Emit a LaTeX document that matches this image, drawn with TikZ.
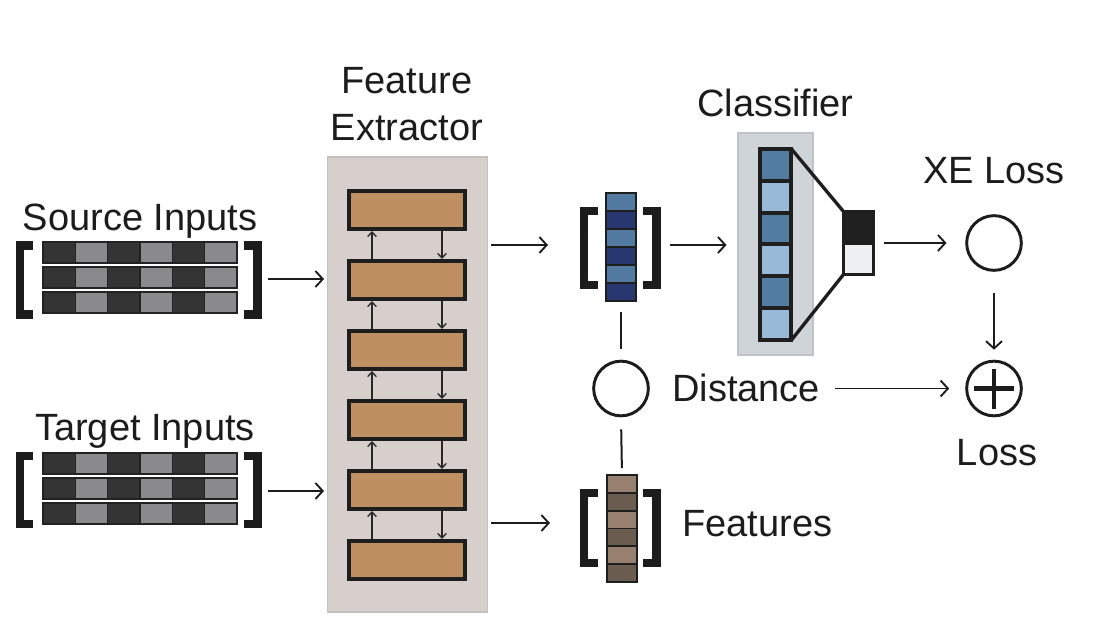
\documentclass[tikz,border=0pt]{standalone}
\usepackage{fontspec}
\setmainfont{Liberation Sans}
\usetikzlibrary{arrows.meta}

\begin{document}
\begin{tikzpicture}[x=0.75pt,y=0.75pt,yscale=-1,xscale=1,
  txt/.style={inner sep=0pt, text={rgb, 255:red, 28; green, 28; blue, 28}, font=\fontsize{28.5}{35.5}\selectfont},
  arr/.style={draw={rgb, 255:red, 28; green, 28; blue, 28}, line width=1.4pt, -{Straight Barb[length=5.5pt,width=12pt]}},
  smallarr/.style={draw={rgb, 255:red, 40; green, 40; blue, 40}, line width=1pt, -{Straight Barb[length=3.5pt,width=6.5pt]}},
  link/.style={draw={rgb, 255:red, 28; green, 28; blue, 28}, line width=1.5pt},
  brack/.style={draw={rgb, 255:red, 28; green, 28; blue, 28}, line width=6.5pt},
  fxblock/.style={draw={rgb, 255:red, 30; green, 30; blue, 30}, fill={rgb, 255:red, 190; green, 144; blue, 97}, line width=3pt, minimum width=87pt, minimum height=28.5pt, inner sep=0pt},
  inrow/.style={draw={rgb, 255:red, 34; green, 34; blue, 34}, fill={rgb, 255:red, 52; green, 52; blue, 52}, line width=1.5pt},
  incell/.style={draw={rgb, 255:red, 34; green, 34; blue, 34}, fill={rgb, 255:red, 138; green, 138; blue, 140}, line width=1.1pt},
  vcell/.style={draw={rgb, 255:red, 30; green, 30; blue, 30}, line width=1.4pt},
  ccell/.style={draw={rgb, 255:red, 30; green, 30; blue, 30}, line width=3pt},
  ring/.style={circle, draw={rgb, 255:red, 28; green, 28; blue, 28}, line width=2.2pt, minimum size=41pt, inner sep=0pt}
]
\useasboundingbox (0,0) rectangle (1100,636);

%Shape: Rectangle -- feature extractor background
\draw (407.5,384.5) node (fe) [draw={rgb, 255:red, 196; green, 193; blue, 191}, fill={rgb, 255:red, 215; green, 207; blue, 203}, line width=1.2pt, minimum width=120pt, minimum height=341pt, inner sep=0pt] {};
%Shape: Rectangle -- layers
\foreach \i/\y in {1/210,2/280,3/350,4/420,5/490,6/560}
  \draw (407,\y) node (b\i) [fxblock] {};
\foreach \i/\j in {1/2,2/3,3/4,4/5,5/6} {
  \draw[smallarr] ([xshift=-26.25pt]b\j.north) -- ([xshift=-26.25pt]b\i.south);
  \draw[smallarr] ([xshift=26.25pt]b\i.south) -- ([xshift=26.25pt]b\j.north);
}

%Shape: Rectangle -- input rows
\foreach \yy in {252.5,277.5,302.5,463.5,488.5,513.5} {
  \draw[inrow] (43,\yy-10.5) rectangle (237,\yy+10.5);
  \foreach \c in {1,3,5}
    \draw[incell] ({43+32.33*\c},\yy-10.5) rectangle ++(32.33,21);
}
%Shape: Brackets -- inputs
\draw[brack] (33,245.5) -- (20,245.5) -- (20,314.5) -- (33,314.5);
\draw[brack] (244,245.5) -- (257.5,245.5) -- (257.5,314.5) -- (244,314.5);
\draw[brack] (33,456) -- (20,456) -- (20,524) -- (33,524);
\draw[brack] (244,456) -- (257.5,456) -- (257.5,524) -- (244,524);

%Shape: Rectangle -- source feature vector
\draw (621,247) node (fv) [minimum width=22.5pt, minimum height=81pt, inner sep=0pt] {};
\draw[vcell, fill={rgb, 255:red, 40; green, 55; blue, 112}] (606,193) rectangle (636,301);
\foreach \k in {0,2,4}
  \draw[vcell, fill={rgb, 255:red, 82; green, 121; blue, 160}] (606,193+18*\k) rectangle (636,211+18*\k);
\draw[brack] (598,211) -- (584,211) -- (584,285) -- (598,285);
\draw[brack] (643,211) -- (656.5,211) -- (656.5,285) -- (643,285);

%Shape: Rectangle -- target feature vector
\draw (622,528.5) node (tv) [minimum width=22.5pt, minimum height=80pt, inner sep=0pt] {};
\draw[vcell, fill={rgb, 255:red, 106; green, 92; blue, 78}] (607,475) rectangle (637,582);
\foreach \k in {0,2,4}
  \draw[vcell, fill={rgb, 255:red, 152; green, 128; blue, 113}] (607,475+17.83*\k) rectangle (637,492.83+17.83*\k);
\draw[brack] (598,493) -- (584,493) -- (584,563) -- (598,563);
\draw[brack] (643,493) -- (656.5,493) -- (656.5,563) -- (643,563);

%Shape: Rectangle -- classifier
\draw (775.5,244) node (clsbox) [draw={rgb, 255:red, 190; green, 195; blue, 198}, fill={rgb, 255:red, 206; green, 212; blue, 216}, line width=1.2pt, minimum width=56.25pt, minimum height=166.5pt, inner sep=0pt] {};
\draw (775.5,244.5) node (clscol) [minimum width=23.25pt, minimum height=143.25pt, inner sep=0pt] {};
\draw[ccell, fill={rgb, 255:red, 152; green, 185; blue, 215}] (760,149) rectangle (791,340);
\foreach \k in {0,2,4}
  \draw[ccell, fill={rgb, 255:red, 82; green, 125; blue, 160}] (760,149+31.83*\k) rectangle (791,180.83+31.83*\k);
\draw (858.5,243) node (smax) [minimum width=22.5pt, minimum height=47.25pt, inner sep=0pt] {};
\draw[line width=2.6pt, draw={rgb, 255:red, 30; green, 30; blue, 30}, fill={rgb, 255:red, 32; green, 32; blue, 32}] (843.5,211.5) rectangle (873.5,243);
\draw[line width=2.6pt, draw={rgb, 255:red, 30; green, 30; blue, 30}, fill={rgb, 255:red, 238; green, 240; blue, 242}] (843.5,243) rectangle (873.5,274.5);
\draw[line width=2.5pt, draw={rgb, 255:red, 30; green, 30; blue, 30}] (clscol.north east) -- (smax.north west);
\draw[line width=2.5pt, draw={rgb, 255:red, 30; green, 30; blue, 30}] (clscol.south east) -- (smax.south west);

%Shape: Circle
\draw (621,388.5) node (dist) [ring] {};
\draw (994,243) node (xe) [ring] {};
\draw (994,388.5) node (plus) [ring] {};
\draw[line width=3.4pt, draw={rgb, 255:red, 28; green, 28; blue, 28}] ([xshift=-15pt]plus.center) -- ([xshift=15pt]plus.center);
\draw[line width=3.4pt, draw={rgb, 255:red, 28; green, 28; blue, 28}] ([yshift=-15pt]plus.center) -- ([yshift=15pt]plus.center);

% Text Node
\draw (140,230) node (srclbl) [txt, anchor=base] {Source Inputs};
% Text Node
\draw (145,440) node (tgtlbl) [txt, anchor=base] {Target Inputs};
% Text Node
\draw (407,141) node (felbl) [txt, anchor=south, align=center] {Feature\\Extractor};
% Text Node
\draw (775.5,116) node (clslbl) [txt, anchor=base] {Classifier};
% Text Node
\draw (994,183) node (xelbl) [txt, anchor=base] {XE Loss};
% Text Node
\draw (997,465) node (losslbl) [txt, anchor=base] {Loss};
% Text Node
\draw (672,401) node (distlbl) [txt, anchor=base west] {Distance};
% Text Node
\draw (682,536) node (featlbl) [txt, anchor=base west] {Features};

% connectors
\coordinate (srcout) at (268,279);
\coordinate (tgtout) at (268,491);
\coordinate (fvin) at (548,245);
\coordinate (tvin) at (550,523);
\coordinate (distout) at (835,388.5);
\draw[arr, shorten >=2pt] (srcout) -- (srcout -| fe.west);
\draw[arr, shorten >=2pt] (tgtout) -- (tgtout -| fe.west);
\draw[arr, shorten <=2.25pt] (fe.east |- fvin) -- (fvin);
\draw[arr, shorten <=2.25pt] (fe.east |- tvin) -- (tvin);
\draw[arr, shorten <=25.5pt, shorten >=8pt] (fv.east |- fvin) -- (clsbox.west |- fvin);
\draw[arr, shorten <=7.5pt, shorten >=14pt] (smax.east) -- (xe.west);
\draw[arr, shorten <=15.75pt, shorten >=7.5pt] (xe.south) -- (plus.north);
\draw[arr, shorten >=12pt] (distout) -- (plus.west);
\draw[link, shorten <=8pt, shorten >=8pt] (fv.south) -- (dist.north);
\draw[link, shorten <=9pt, shorten >=5pt] (dist.south) -- (tv.north);

\end{tikzpicture}
\end{document}
